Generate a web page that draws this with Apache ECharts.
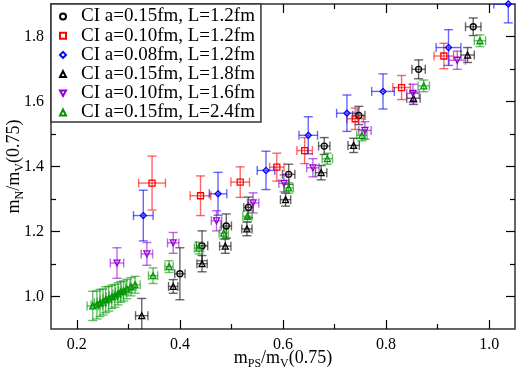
<!DOCTYPE html>
<html>
<head>
<meta charset="utf-8">
<script src="https://cdn.jsdelivr.net/npm/echarts@6/dist/echarts.min.js"></script>
<style>
html, body { margin: 0; padding: 0; background: #fff; }
#chart { width: 518px; height: 372px; }
</style>
</head>
<body>
<div id="chart"></div>
<script>
// each row: [mPS/mV, mN/mV, x error, y error]
const ciA15L12 = [
	[0.400, 1.070, 0.010, 0.080],
	[0.443, 1.156, 0.011, 0.046],
	[0.490, 1.217, 0.010, 0.037],
	[0.533, 1.274, 0.009, 0.032],
	[0.611, 1.376, 0.012, 0.031],
	[0.680, 1.463, 0.011, 0.026],
	[0.747, 1.557, 0.012, 0.028],
	[0.863, 1.699, 0.013, 0.029],
	[0.969, 1.830, 0.015, 0.027]
];
const ciA10L12 = [
	[0.346, 1.349, 0.026, 0.083],
	[0.440, 1.310, 0.020, 0.061],
	[0.517, 1.352, 0.018, 0.047],
	[0.588, 1.398, 0.014, 0.043],
	[0.642, 1.449, 0.015, 0.040],
	[0.740, 1.547, 0.016, 0.033],
	[0.830, 1.643, 0.017, 0.037],
	[0.912, 1.740, 0.019, 0.039]
];
const ciA08L12 = [
	[0.329, 1.249, 0.019, 0.078],
	[0.474, 1.316, 0.017, 0.066],
	[0.567, 1.388, 0.017, 0.059],
	[0.649, 1.496, 0.018, 0.057],
	[0.724, 1.564, 0.020, 0.056],
	[0.794, 1.631, 0.022, 0.054],
	[0.921, 1.766, 0.024, 0.055],
	[1.037, 1.900, 0.028, 0.058]
];
const ciA15L18 = [
	[0.326, 0.941, 0.012, 0.053],
	[0.387, 1.031, 0.009, 0.021],
	[0.443, 1.101, 0.010, 0.025],
	[0.488, 1.155, 0.011, 0.022],
	[0.530, 1.208, 0.010, 0.021],
	[0.605, 1.298, 0.010, 0.020],
	[0.674, 1.381, 0.011, 0.022],
	[0.737, 1.465, 0.011, 0.022],
	[0.853, 1.610, 0.013, 0.019],
	[0.958, 1.743, 0.013, 0.023]
];
const ciA10L16 = [
	[0.278, 1.103, 0.013, 0.047],
	[0.336, 1.131, 0.011, 0.035],
	[0.387, 1.165, 0.011, 0.032],
	[0.471, 1.233, 0.010, 0.031],
	[0.542, 1.288, 0.011, 0.031],
	[0.602, 1.348, 0.010, 0.026],
	[0.658, 1.396, 0.012, 0.028],
	[0.759, 1.511, 0.012, 0.027],
	[0.852, 1.625, 0.012, 0.028],
	[0.938, 1.727, 0.016, 0.028]
];
const ciA15L24 = [
	[0.231, 0.971, 0.011, 0.045],
	[0.239, 0.974, 0.011, 0.043],
	[0.245, 0.980, 0.011, 0.042],
	[0.251, 0.983, 0.011, 0.040],
	[0.256, 0.990, 0.011, 0.040],
	[0.262, 0.993, 0.011, 0.038],
	[0.268, 0.999, 0.011, 0.036],
	[0.274, 1.002, 0.011, 0.035],
	[0.280, 1.008, 0.010, 0.034],
	[0.285, 1.014, 0.010, 0.032],
	[0.291, 1.017, 0.010, 0.031],
	[0.297, 1.023, 0.010, 0.030],
	[0.305, 1.030, 0.010, 0.028],
	[0.313, 1.036, 0.010, 0.026],
	[0.348, 1.064, 0.009, 0.024],
	[0.379, 1.092, 0.008, 0.018],
	[0.437, 1.149, 0.009, 0.018],
	[0.485, 1.195, 0.009, 0.018],
	[0.531, 1.247, 0.009, 0.017],
	[0.611, 1.334, 0.009, 0.016],
	[0.686, 1.424, 0.010, 0.017],
	[0.753, 1.496, 0.010, 0.017],
	[0.873, 1.648, 0.011, 0.018],
	[0.982, 1.787, 0.011, 0.018]
];

const xMajor = [0.2, 0.4, 0.6, 0.8, 1.0];
const xMinor = [0.3, 0.5, 0.7, 0.9];
const yMajor = [1.0, 1.2, 1.4, 1.6, 1.8];
const yMinor = [1.1, 1.3, 1.5, 1.7];

const downTri = 'path://M0,0 L10,0 L5,9 Z';
const sets = [
	{ name: 'CI a=0.15fm, L=1.2fm', data: ciA15L12, color: '#000000', symbol: 'circle' },
	{ name: 'CI a=0.10fm, L=1.2fm', data: ciA10L12, color: '#ff0000', symbol: 'rect' },
	{ name: 'CI a=0.08fm, L=1.2fm', data: ciA08L12, color: '#0000ff', symbol: 'diamond' },
	{ name: 'CI a=0.15fm, L=1.8fm', data: ciA15L18, color: '#000000', symbol: 'triangle' },
	{ name: 'CI a=0.10fm, L=1.6fm', data: ciA10L16, color: '#9400d3', symbol: downTri },
	{ name: 'CI a=0.15fm, L=2.4fm', data: ciA15L24, color: '#009600', symbol: 'triangle' }
];

const FONT = 'Liberation Serif';
const X_MIN = 0.15, X_MAX = 1.05, Y_MIN = 0.9, Y_MAX = 1.9;

function errorBars(color) {
	return function (params, api) {
		const x = api.value(0), y = api.value(1), dx = api.value(2), dy = api.value(3);
		const l = api.coord([x - dx, y]);
		const r = api.coord([x + dx, y]);
		const t = api.coord([x, y + dy]);
		const b = api.coord([x, y - dy]);
		const cap = 4.5;
		const style = { stroke: color, lineWidth: 1.4, opacity: 0.6 };
		const seg = (x1, y1, x2, y2) => ({ type: 'line', shape: { x1, y1, x2, y2 }, style });
		return {
			type: 'group',
			children: [
				seg(l[0], l[1], r[0], r[1]),
				seg(t[0], t[1], b[0], b[1]),
				seg(l[0], l[1] - cap, l[0], l[1] + cap),
				seg(r[0], r[1] - cap, r[0], r[1] + cap),
				seg(t[0] - cap, t[1], t[0] + cap, t[1]),
				seg(b[0] - cap, b[1], b[0] + cap, b[1])
			]
		};
	};
}

const tickStyle = { color: '#000', width: 1.2 };
function xAxisDef(position, ticks, len, labels) {
	return {
		type: 'value', position, min: X_MIN, max: X_MAX,
		axisLine: { show: false },
		splitLine: { show: false },
		axisTick: { show: true, inside: true, length: len, customValues: ticks, lineStyle: tickStyle },
		axisLabel: labels ? {
			show: true, customValues: ticks, margin: 8,
			fontFamily: FONT, fontSize: 16, color: '#000',
			formatter: v => v.toFixed(1)
		} : { show: false }
	};
}
function yAxisDef(position, ticks, len, labels) {
	return {
		type: 'value', position, min: Y_MIN, max: Y_MAX,
		axisLine: { show: false },
		splitLine: { show: false },
		axisTick: { show: true, inside: true, length: len, customValues: ticks, lineStyle: tickStyle },
		axisLabel: labels ? {
			show: true, customValues: ticks, margin: 7,
			fontFamily: FONT, fontSize: 16, color: '#000',
			formatter: v => v.toFixed(1)
		} : { show: false }
	};
}

const nameStyle = {
	rich: {
		a: { fontFamily: FONT, fontSize: 18, lineHeight: 24, color: '#000' },
		s: { fontFamily: FONT, fontSize: 12, lineHeight: 12, verticalAlign: 'bottom', color: '#000' }
	}
};

const xAxes = [
	xAxisDef('bottom', xMajor, 9, true),
	xAxisDef('bottom', xMinor, 5, false),
	xAxisDef('top', xMajor, 9, false),
	xAxisDef('top', xMinor, 5, false)
];
Object.assign(xAxes[0], {
	name: '{a|m}{s|PS}{a|/m}{s|V}{a|(0.75)}',
	nameLocation: 'middle',
	nameGap: 17,
	nameMoveOverlap: false,
	nameTextStyle: nameStyle
});

const yAxes = [
	yAxisDef('left', yMajor, 9, true),
	yAxisDef('left', yMinor, 5, false),
	yAxisDef('right', yMajor, 9, false),
	yAxisDef('right', yMinor, 5, false)
];
Object.assign(yAxes[0], {
	name: '{a|m}{s|N}{a|/m}{s|V}{a|(0.75)}',
	nameLocation: 'middle',
	nameRotate: 90,
	nameGap: 25,
	nameMoveOverlap: false,
	nameTextStyle: nameStyle
});

const series = [];
sets.forEach((s, i) => {
	series.push({
		name: 'err' + i,
		type: 'custom',
		xAxisIndex: 0, yAxisIndex: 0,
		clip: true,
		silent: true,
		renderItem: errorBars(s.color),
		data: s.data
	});
	series.push({
		name: s.name,
		type: 'scatter',
		xAxisIndex: 0, yAxisIndex: 0,
		symbol: s.symbol,
		symbolSize: 6,
		clip: true,
		silent: true,
		itemStyle: { color: 'rgba(255,255,255,0)', borderColor: s.color, borderWidth: 1.3, opacity: 1 },
		data: s.data.map(d => [d[0], d[1]])
	});
});

const chart = echarts.init(document.getElementById('chart'), null, { renderer: 'canvas' });
chart.setOption({
	animation: false,
	backgroundColor: '#fff',
	grid: {
		left: 51, right: 3, top: 4, bottom: 43,
		outerBoundsMode: 'none',
		containLabel: false,
		show: true, borderColor: '#333', borderWidth: 1.5, backgroundColor: 'transparent'
	},
	legend: {
		data: sets.map(s => s.name),
		orient: 'vertical',
		left: 51, top: 4,
		padding: [3, 6, 0, 8],
		itemGap: 0.2,
		itemWidth: 6, itemHeight: 6,
		backgroundColor: '#fff',
		borderColor: '#333', borderWidth: 1.5,
		selectedMode: false,
		textStyle: { fontFamily: FONT, fontSize: 19, lineHeight: 19, color: '#000', padding: [0, 0, 0, 10] }
	},
	xAxis: xAxes,
	yAxis: yAxes,
	series: series
});
</script>
</body>
</html>
